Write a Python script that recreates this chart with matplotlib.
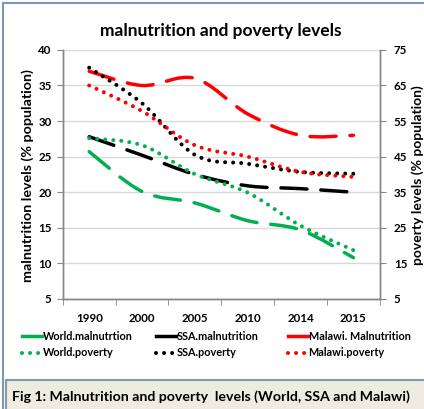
import numpy as np
import matplotlib
matplotlib.use('Agg')
import matplotlib.pyplot as plt
from matplotlib.path import Path
from matplotlib.patches import PathPatch, Rectangle
from matplotlib.lines import Line2D

plt.rcParams['font.family'] = ['Lato', 'DejaVu Sans']
plt.rcParams['font.weight'] = 'bold'

# values
years = ['1990', '2000', '2005', '2010', '2014', '2015']
world_mal = [25.7, 20.1, 18.5, 16.0, 14.7, 10.8]
ssa_mal = [27.8, 25.2, 22.5, 20.9, 20.5, 20.0]
malawi_mal = [37.0, 35.0, 36.0, 31.0, 28.0, 28.0]
world_pov = [50.2, 48.2, 40.1, 34.9, 25.6, 18.7]
ssa_pov = [70.0, 60.0, 45.5, 43.0, 40.7, 40.2]
malawi_pov = [65.0, 57.8, 48.2, 45.0, 40.7, 39.3]

GREEN, BLACK, RED = '#00B050', '#000000', '#FF0000'
DASH = (0, (7.5, 4))
DOT = (0, (0.001, 2.0))


def smooth_path(ys):
    # Excel-style smoothed line: cubic bezier through each point
    xs = np.arange(len(ys), dtype=float)
    pts = np.column_stack([xs, np.asarray(ys, dtype=float)])
    n = len(pts)
    verts = [pts[0]]
    codes = [Path.MOVETO]
    for i in range(n - 1):
        p_prev = pts[i - 1] if i > 0 else pts[i]
        p_next = pts[i + 2] if i + 2 < n else pts[i + 1]
        c1 = pts[i] + (pts[i + 1] - p_prev) / 6
        c2 = pts[i + 1] - (p_next - pts[i]) / 6
        verts += [c1, c2, pts[i + 1]]
        codes += [Path.CURVE4] * 3
    return Path(verts, codes)


def draw(ax, ys, color, ls, lw):
    patch = PathPatch(smooth_path(ys), facecolor='none', edgecolor=color,
                      linestyle=ls, linewidth=lw, capstyle='round', zorder=3)
    patch.set_joinstyle('round')
    ax.add_patch(patch)


fig = plt.figure(figsize=(4.24, 4.09), dpi=100)
ax = fig.add_axes([0.148, 0.269, 0.748, 0.609])
ax2 = ax.twinx()

draw(ax, world_mal, GREEN, DASH, 2.5)
draw(ax, ssa_mal, BLACK, DASH, 2.5)
draw(ax, malawi_mal, RED, DASH, 2.5)
draw(ax2, world_pov, GREEN, DOT, 2.9)
draw(ax2, ssa_pov, BLACK, DOT, 2.9)
draw(ax2, malawi_pov, RED, DOT, 2.9)

ax.set_xlim(-0.5, len(years) - 0.5)
ax.set_ylim(5, 40)
ax.set_yticks(np.arange(5, 41, 5))
ax2.set_ylim(5, 75)
ax2.set_yticks(np.arange(5, 76, 10))
ax.set_xticks(np.arange(len(years)))
ax.set_xticklabels(years)
ax.set_xticks(np.arange(-0.5, len(years), 1), minor=True)

ax.yaxis.grid(True, color='#D9D9D9', linewidth=1)
ax.set_axisbelow(True)
for a in (ax, ax2):
    a.spines['top'].set_visible(False)
    for s in ('left', 'right', 'bottom'):
        a.spines[s].set_color('#868686')
        a.spines[s].set_linewidth(1)
ax.tick_params(axis='x', which='major', length=0, pad=10, labelsize=8.3)
ax.tick_params(axis='x', which='minor', length=4, color='#868686')
ax.tick_params(axis='y', length=4, color='#868686', pad=4, labelsize=8.3)
ax2.tick_params(axis='y', length=4, color='#868686', pad=6, labelsize=8.3)

fig.text(221 / 424, 1 - 31 / 409, 'malnutrition and poverty levels',
         ha='center', va='center', fontsize=12.5, fontweight='bold')
fig.text(28 / 424, 1 - 176 / 409, 'malnutrition levels (% population)',
         ha='center', va='center', rotation=90, fontsize=10.3, fontweight='bold')
fig.text(417.5 / 424, 1 - 175 / 409, 'poverty levels (% population)',
         ha='center', va='center', rotation=90, fontsize=10.0, fontweight='bold')

# legend: one small legend per column, as in the reference
series_legend = [
    (GREEN, 'World.malnutrtion', 'World.poverty', 22),
    (BLACK, 'SSA.malnutrition', 'SSA.poverty', 156),
    (RED, 'Malawi. Malnutrition', 'Malawi.poverty', 288),
]
for color, mal_label, pov_label, x0 in series_legend:
    h = [Line2D([], [], color=color, lw=2.5),
         Line2D([], [], color=color, lw=2.9, ls=DOT, dash_capstyle='round')]
    fig.legend(h, [mal_label, pov_label], loc='upper left',
               bbox_to_anchor=(x0 / 424, 1 - 331 / 409), frameon=False,
               fontsize=7.8, handlelength=1.8, handletextpad=0.1,
               labelspacing=0.5, borderaxespad=0, borderpad=0)

# outer frame and caption box
fig.add_artist(Rectangle((3 / 424, -0.1), 1.2, 1.1 - 3 / 409,
                         transform=fig.transFigure, facecolor='none',
                         edgecolor='#7F96B8', linewidth=1.5))
fig.add_artist(Rectangle((6 / 424, -0.1), 1.2, 0.1 + 29 / 409,
                         transform=fig.transFigure, facecolor='#EEECE1',
                         edgecolor='#8497B0', linewidth=1.5))
fig.text(12 / 424, 1 - 397 / 409,
         'Fig 1: Malnutrition and poverty  levels (World, SSA and Malawi)',
         ha='left', va='center', fontsize=10.2, fontweight='bold')

fig.savefig('out.png', dpi=100)
